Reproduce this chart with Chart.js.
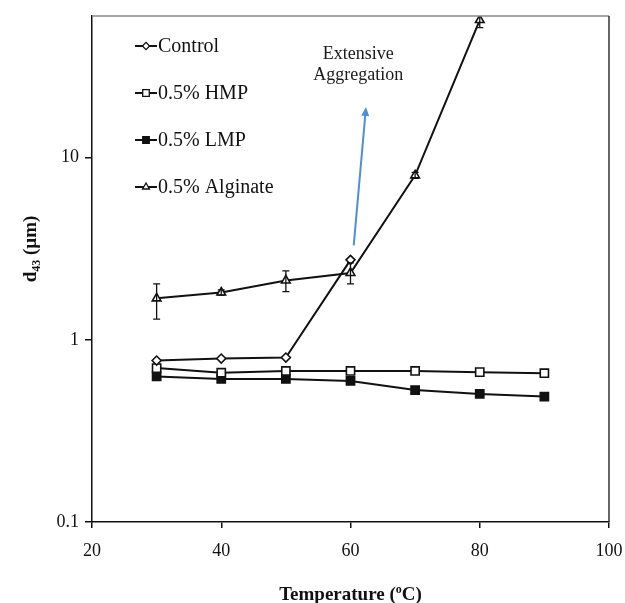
<!DOCTYPE html>
<html>
<head>
<meta charset="utf-8">
<script src="https://cdn.jsdelivr.net/npm/chart.js@4"></script>
<style>
  html, body { margin: 0; padding: 0; background: #fff; }
  #wrap { width: 625px; height: 603px; position: relative; }
</style>
</head>
<body>
<div id="wrap"><canvas id="chart"></canvas></div>
<script>
// data
const temps = [30, 40, 50, 60, 70, 80, 90];
const controlTemps = [30, 40, 50, 60];
const controlVals = [0.77, 0.79, 0.80, 2.75];
const hmpVals = [0.70, 0.66, 0.675, 0.675, 0.675, 0.665, 0.656];
const lmpVals = [0.63, 0.61, 0.61, 0.595, 0.53, 0.505, 0.488];
const alginateTemps = [30, 40, 50, 60, 70, 80];
const alginateVals = [1.69, 1.82, 2.12, 2.33, 8.0, 57];
const alginateLow = [1.30, 1.76, 1.84, 2.03, 7.7, 51.8];
const alginateHigh = [2.03, 1.88, 2.39, 2.65, 8.3, 63];
const seriesNames = ['Control', '0.5% HMP', '0.5% LMP', '0.5% Alginate'];
const xTicks = [20, 40, 60, 80, 100];
const yTicks = [0.1, 1, 10];
const yTickLabels = ['0.1', '1', '10'];
const noteLines = ['Extensive', 'Aggregation'];
const noteAt = [{x: 61.2, y: 36.8}, {x: 61.2, y: 28.2}];
const arrowFrom = {x: 60.5, y: 3.3};
const arrowTo = {x: 62.4, y: 19};

const FONT = "'Liberation Serif', 'Times New Roman', serif";

function pts(xs, ys) {
    return xs.map((x, i) => ({x: x, y: ys[i]}));
}

function ds(label, data, style, fill, radius) {
    return {
        label: label,
        data: data,
        borderColor: '#111',
        borderWidth: 2,
        pointStyle: style,
        pointRadius: radius,
        pointBackgroundColor: fill,
        pointBorderColor: '#111',
        pointBorderWidth: 1.6,
        tension: 0
    };
}

const datasets = [
    ds(seriesNames[0], pts(controlTemps, controlVals), 'rectRot', '#fff', 4.5),
    ds(seriesNames[1], pts(temps, hmpVals), 'rect', '#fff', 5.8),
    ds(seriesNames[2], pts(temps, lmpVals), 'rect', '#111', 5.8),
    ds(seriesNames[3], pts(alginateTemps, alginateVals), 'triangle', '#fff', 5)
];

// error bars, legend, notes, frame and axis titles
const extras = {
    id: 'extras',
    afterDatasetsDraw(chart) {
        const ctx = chart.ctx;
        const xs = chart.scales.x, ys = chart.scales.y;
        const area = chart.chartArea;

        ctx.save();
        ctx.beginPath();
        ctx.rect(area.left, area.top, area.right - area.left, area.bottom - area.top);
        ctx.clip();
        ctx.strokeStyle = '#111';
        ctx.lineWidth = 1.3;
        alginateTemps.forEach((t, i) => {
            const x = xs.getPixelForValue(t);
            const y1 = ys.getPixelForValue(alginateLow[i]);
            const y2 = ys.getPixelForValue(alginateHigh[i]);
            ctx.beginPath();
            ctx.moveTo(x, y1); ctx.lineTo(x, y2);
            ctx.moveTo(x - 3.5, y1); ctx.lineTo(x + 3.5, y1);
            ctx.moveTo(x - 3.5, y2); ctx.lineTo(x + 3.5, y2);
            ctx.stroke();
        });
        ctx.restore();
    },
    afterDraw(chart) {
        const ctx = chart.ctx;
        const xs = chart.scales.x, ys = chart.scales.y;
        const area = chart.chartArea;
        ctx.save();

        // frame top / right
        ctx.lineWidth = 1.5;
        ctx.strokeStyle = '#8a8a8a';
        ctx.beginPath();
        ctx.moveTo(area.left, area.top); ctx.lineTo(area.right, area.top);
        ctx.stroke();
        ctx.strokeStyle = '#333';
        ctx.beginPath();
        ctx.moveTo(area.right, area.top); ctx.lineTo(area.right, area.bottom);
        ctx.stroke();

        // legend
        const lx = area.left + 43, ly = area.top + 30, gap = 47;
        chart.data.datasets.forEach((d, i) => {
            const y = ly + i * gap;
            ctx.strokeStyle = '#111';
            ctx.lineWidth = 2;
            ctx.beginPath();
            ctx.moveTo(lx, y); ctx.lineTo(lx + 22, y);
            ctx.stroke();
            ctx.fillStyle = d.pointBackgroundColor;
            ctx.strokeStyle = d.pointBorderColor;
            ctx.lineWidth = 1.3;
            Chart.helpers.drawPoint(ctx, {pointStyle: d.pointStyle, radius: d.pointRadius * 0.8, borderWidth: 1.3}, lx + 11, y);
            ctx.fillStyle = '#111';
            ctx.font = '20px ' + FONT;
            ctx.textAlign = 'left';
            ctx.textBaseline = 'middle';
            ctx.fillText(d.label, lx + 23, y + 1);
        });

        // annotation
        ctx.fillStyle = '#1a1a1a';
        ctx.font = '18px ' + FONT;
        ctx.textAlign = 'center';
        ctx.textBaseline = 'middle';
        noteLines.forEach((s, i) => {
            ctx.fillText(s, xs.getPixelForValue(noteAt[i].x), ys.getPixelForValue(noteAt[i].y));
        });

        // arrow
        const ax1 = xs.getPixelForValue(arrowFrom.x), ay1 = ys.getPixelForValue(arrowFrom.y);
        const ax2 = xs.getPixelForValue(arrowTo.x), ay2 = ys.getPixelForValue(arrowTo.y);
        const ang = Math.atan2(ay2 - ay1, ax2 - ax1);
        ctx.strokeStyle = '#4f8fd6';
        ctx.fillStyle = '#4f8fd6';
        ctx.lineWidth = 2;
        ctx.beginPath();
        ctx.moveTo(ax1, ay1);
        ctx.lineTo(ax2 - 6 * Math.cos(ang), ay2 - 6 * Math.sin(ang));
        ctx.stroke();
        ctx.beginPath();
        ctx.moveTo(ax2, ay2);
        ctx.lineTo(ax2 - 9 * Math.cos(ang) + 4 * Math.sin(ang), ay2 - 9 * Math.sin(ang) - 4 * Math.cos(ang));
        ctx.lineTo(ax2 - 9 * Math.cos(ang) - 4 * Math.sin(ang), ay2 - 9 * Math.sin(ang) + 4 * Math.cos(ang));
        ctx.closePath();
        ctx.fill();

        // x title with superscript
        ctx.fillStyle = '#111';
        ctx.textBaseline = 'alphabetic';
        ctx.textAlign = 'left';
        const big = 'bold 19px ' + FONT, small = 'bold 12px ' + FONT;
        const parts = [['Temperature (', big, 0], ['o', small, -7], ['C)', big, 0]];
        let w = 0;
        parts.forEach(p => { ctx.font = p[1]; w += ctx.measureText(p[0]).width; });
        let cx = (area.left + area.right) / 2 - w / 2;
        parts.forEach(p => {
            ctx.font = p[1];
            ctx.fillText(p[0], cx, 600 + p[2]);
            cx += ctx.measureText(p[0]).width;
        });

        // y title with subscript
        ctx.translate(36, (area.top + area.bottom) / 2 - 20);
        ctx.rotate(-Math.PI / 2);
        const yparts = [['d', big, 0], ['43', small, 4], [' (\u00b5m)', big, 0]];
        w = 0;
        yparts.forEach(p => { ctx.font = p[1]; w += ctx.measureText(p[0]).width; });
        cx = -w / 2;
        yparts.forEach(p => {
            ctx.font = p[1];
            ctx.fillText(p[0], cx, p[2]);
            cx += ctx.measureText(p[0]).width;
        });

        ctx.restore();
    }
};

new Chart(document.getElementById('chart'), {
    type: 'line',
    data: { datasets: datasets },
    plugins: [extras],
    options: {
        responsive: true,
        maintainAspectRatio: false,
        animation: false,
        layout: { padding: { top: 16, right: 16, left: 0, bottom: 0 } },
        plugins: {
            legend: { display: false },
            tooltip: { enabled: false }
        },
        scales: {
            x: {
                type: 'linear',
                min: xTicks[0],
                max: xTicks[xTicks.length - 1],
                afterBuildTicks: s => { s.ticks = xTicks.map(v => ({value: v})); },
                afterFit: s => { s.height = 81; s.paddingLeft = 0; s.paddingRight = 0; },
                grid: { drawOnChartArea: false, tickLength: 6, color: '#111', lineWidth: 1.5 },
                border: { color: '#111', width: 1.5 },
                ticks: {
                    color: '#111',
                    padding: 12,
                    maxRotation: 0,
                    font: { family: FONT, size: 18 }
                }
            },
            y: {
                type: 'logarithmic',
                min: yTicks[0],
                max: 60,
                afterBuildTicks: s => { s.ticks = yTicks.map(v => ({value: v})); },
                afterFit: s => { s.width = 92; s.paddingTop = 0; s.paddingBottom = 0; },
                grid: { drawOnChartArea: false, tickLength: 7, color: '#111', lineWidth: 1.5 },
                border: { color: '#111', width: 1.5 },
                ticks: {
                    color: '#111',
                    padding: 6,
                    font: { family: FONT, size: 18 },
                    callback: (v) => {
                        const i = yTicks.indexOf(v);
                        return i >= 0 ? yTickLabels[i] : '';
                    }
                }
            }
        }
    }
});
</script>
</body>
</html>
